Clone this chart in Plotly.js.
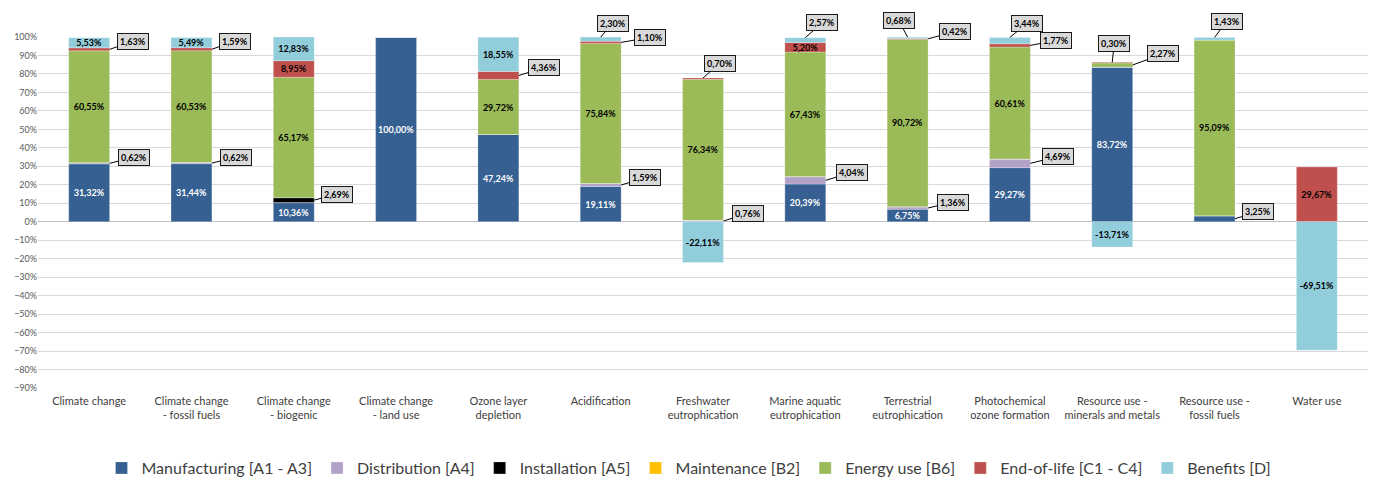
<!DOCTYPE html>
<html>
<head>
<meta charset="utf-8">
<script src="https://cdn.plot.ly/plotly-3.0.1.min.js"></script>
<style>html,body{margin:0;padding:0;background:#fff;}#chart{width:1378px;height:480px;}</style>
</head>
<body>
<div id="chart"></div>
<script>
const categories = [
  "Climate change", "Climate change<br>- fossil fuels", "Climate change<br>- biogenic",
  "Climate change<br>- land use", "Ozone layer<br>depletion", "Acidification",
  "Freshwater<br>eutrophication", "Marine aquatic<br>eutrophication", "Terrestrial<br>eutrophication",
  "Photochemical<br>ozone formation", "Resource use -<br>minerals and metals", "Resource use -<br>fossil fuels",
  "Water use"
];
const manufacturing = [31.32, 31.44, 10.36, 100.00, 47.24, 19.11, 0, 20.39, 6.75, 29.27, 83.72, 3.25, 0];
const distribution  = [0.62, 0.62, 0, 0, 0, 1.59, 0.76, 4.04, 1.36, 4.69, 0, 0, 0];
const installation  = [0, 0, 2.69, 0, 0, 0, 0, 0, 0, 0, 0, 0, 0];
const maintenance   = [0, 0, 0, 0, 0, 0, 0, 0, 0, 0, 0, 0, 0];
const energyUse     = [60.55, 60.53, 65.17, 0, 29.72, 75.84, 76.34, 67.43, 90.72, 60.61, 2.27, 95.09, 0];
const endOfLife     = [1.63, 1.59, 8.95, 0, 4.36, 1.10, 0.70, 5.20, 0.42, 1.77, 0.30, 0, 29.67];
const benefits      = [5.53, 5.49, 12.83, 0, 18.55, 2.30, -22.11, 2.57, 0.68, 3.44, -13.71, 1.43, -69.51];

const seriesNames = ["Manufacturing [A1 - A3]", "Distribution [A4]", "Installation [A5]", "Maintenance [B2]",
                     "Energy use [B6]", "End-of-life [C1 - C4]", "Benefits [D]"];
const seriesData = [manufacturing, distribution, installation, maintenance, energyUse, endOfLife, benefits];
const seriesColors = ["#366092", "#B3A2C7", "#000000", "#FFC000", "#9BBB59", "#C0504D", "#92CDDC"];
const labelColors = ["#ffffff", "#000000", "#ffffff", "#000000", "#000000", "#000000", "#000000"];

// callouts: [series index, category index, placement, ax, ay]
const callouts = [
  [5, 0, "right", 23, -8], [1, 0, "right", 24, -6],
  [5, 1, "right", 23, -8], [1, 1, "right", 24, -6],
  [2, 2, "right", 23, -6],
  [5, 4, "right", 25, -8],
  [6, 5, "top", 12, -14], [5, 5, "right", 29, -5], [1, 5, "right", 24, -7],
  [5, 6, "top", 17, -15], [1, 6, "right", 25, -8],
  [6, 7, "top", 17, -15], [1, 7, "right", 26, -8],
  [6, 8, "top", -9, -17], [5, 8, "right", 27, -7], [1, 8, "right", 25, -6],
  [6, 9, "top", 17, -14], [5, 9, "right", 26, -5], [1, 9, "right", 28, -7],
  [5, 10, "top", 2, -19], [4, 10, "right", 30, -11],
  [6, 11, "top", 12, -16], [0, 11, "right", 23, -7]
];

const fmt = v => v.toFixed(2).replace('.', ',') + '%';
const FONT = "Lato, 'Open Sans', sans-serif";

const traces = seriesData.map((vals, s) => ({
  type: 'bar',
  name: seriesNames[s],
  x: categories,
  y: vals,
  marker: {color: seriesColors[s], line: {color: 'rgba(255,255,255,0.5)', width: 0.5}},
  text: vals.map(v => Math.abs(v) >= 5 ? fmt(v) : ''),
  texttemplate: '%{text}',
  textposition: 'inside',
  insidetextanchor: 'middle',
  textangle: 0,
  constraintext: 'none',
  insidetextfont: {family: FONT, size: 9, color: labelColors[s], weight: 'bold'},
  hoverinfo: 'skip'
}));

const annotations = callouts.map(([s, c, place, ax, ay]) => {
  const v = seriesData[s][c];
  let below = 0;
  for (let k = 0; k < s; k++) { const w = seriesData[k][c]; if (w > 0) below += w; }
  let x, y;
  if (place === 'top') {
    let top = 0;
    for (let k = 0; k < seriesData.length; k++) { const w = seriesData[k][c]; if (w > 0) top += w; }
    x = c; y = top;
  } else {
    x = c + 0.2; y = below + v / 2;
  }
  return {
    xref: 'x', yref: 'y', x: x, y: y, ax: ax, ay: ay,
    text: fmt(v), showarrow: true, arrowhead: 0, arrowwidth: 1, arrowcolor: '#000000',
    bgcolor: '#D9D9D9', bordercolor: '#1a1a1a', borderwidth: 1, borderpad: 2,
    font: {family: FONT, size: 9, color: '#000000', weight: 'bold'}
  };
});

const layout = {
  width: 1378, height: 480,
  margin: {l: 38, r: 10, t: 37, b: 92, autoexpand: false},
  paper_bgcolor: '#ffffff', plot_bgcolor: '#ffffff',
  barmode: 'relative',
  bargap: 0.6,
  separators: ',.',
  showlegend: true,
  legend: {orientation: 'h', x: 0.5, xanchor: 'center', xref: 'container',
           y: 0.025, yanchor: 'middle', yref: 'container',
           font: {family: FONT, size: 16, color: '#404040'}, traceorder: 'normal', itemwidth: 30},
  xaxis: {type: 'category', tickfont: {family: FONT, size: 11, color: '#404040'},
          showgrid: false, showline: false, ticks: '', automargin: false, ticklabelstandoff: 5},
  yaxis: {range: [-90, 100], dtick: 10, ticksuffix: '%', tickfont: {family: FONT, size: 9, color: '#595959'},
          gridcolor: '#D9D9D9', gridwidth: 1, zeroline: true, zerolinecolor: '#BFBFBF', zerolinewidth: 1,
          showline: false, automargin: false, fixedrange: true},
  annotations: annotations,
  font: {family: FONT}
};

Plotly.newPlot('chart', traces, layout, {displayModeBar: false, staticPlot: true});
</script>
</body>
</html>
